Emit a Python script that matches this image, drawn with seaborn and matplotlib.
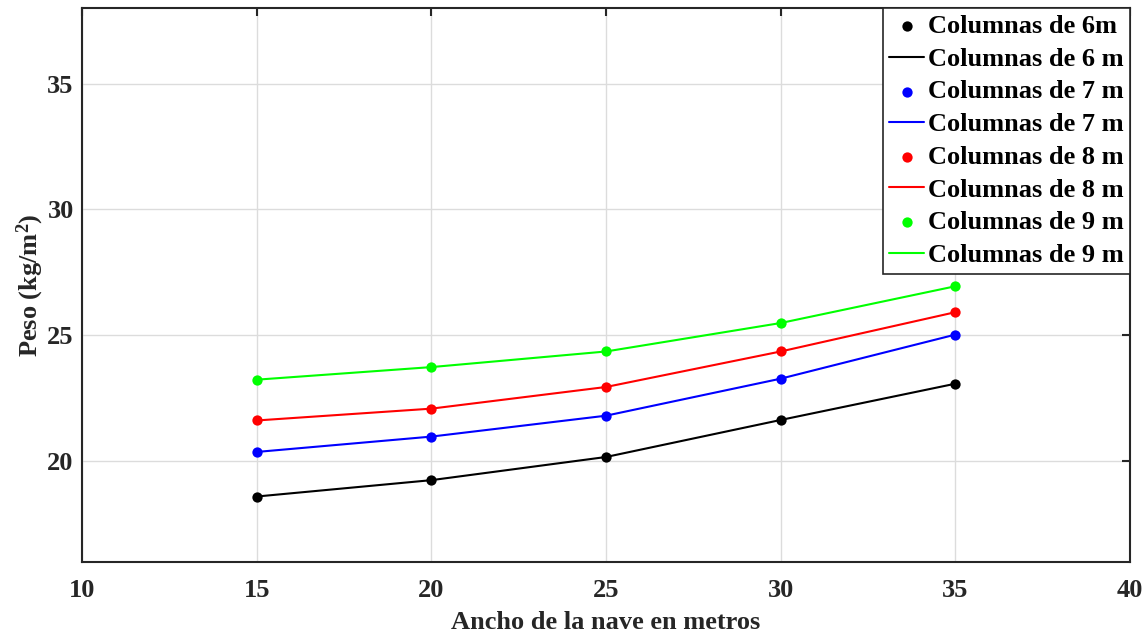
import matplotlib
matplotlib.use("Agg")
import matplotlib.pyplot as plt
import seaborn as sns
import pandas as pd

# data
ancho = [15, 20, 25, 30, 35]
peso_6m = [18.60, 19.25, 20.17, 21.64, 23.08]
peso_7m = [20.37, 20.98, 21.81, 23.28, 25.03]
peso_8m = [21.62, 22.09, 22.95, 24.36, 25.92]
peso_9m = [23.24, 23.74, 24.36, 25.49, 26.95]

series = [
    ("Columnas de 6m", "Columnas de 6 m", peso_6m, "#000000"),
    ("Columnas de 7 m", "Columnas de 7 m", peso_7m, "#0000FF"),
    ("Columnas de 8 m", "Columnas de 8 m", peso_8m, "#FF0000"),
    ("Columnas de 9 m", "Columnas de 9 m", peso_9m, "#00FF00"),
]

sns.set_style("white")
plt.rcParams["font.family"] = ["Liberation Serif", "DejaVu Serif"]
plt.rcParams["font.weight"] = "bold"
plt.rcParams["mathtext.fontset"] = "custom"
plt.rcParams["mathtext.rm"] = "Liberation Serif:bold"
plt.rcParams["mathtext.it"] = "Liberation Serif:bold"
plt.rcParams["mathtext.bf"] = "Liberation Serif:bold"

FS = 19

fig = plt.figure(figsize=(11.48, 6.35), dpi=100)
ax = fig.add_axes([82 / 1148, 1 - 562 / 635, (1130 - 82) / 1148, (562 - 8) / 635])

handles = []
for lab_pts, lab_line, vals, col in series:
    df = pd.DataFrame({"ancho": ancho, "peso": vals})
    sns.lineplot(data=df, x="ancho", y="peso", color=col, linewidth=1.5, ax=ax)
    sns.scatterplot(data=df, x="ancho", y="peso", color=col, s=55, linewidth=0, ax=ax, zorder=3)
    h_line = ax.lines[-1]
    h_pts = ax.collections[-1]
    handles += [(h_pts, lab_pts), (h_line, lab_line)]

ax.set_xlim(10, 40)
ax.set_ylim(16, 38)
ax.set_xticks([10, 15, 20, 25, 30, 35, 40])
ax.set_yticks([20, 25, 30, 35])
ax.grid(True, color="#dcdcdc", linewidth=1.0)
ax.set_axisbelow(True)

for sp in ax.spines.values():
    sp.set_visible(True)
    sp.set_color("#262626")
    sp.set_linewidth(1.5)

ax.tick_params(axis="both", which="both", direction="in", length=6, width=1.5,
               color="#262626", labelcolor="#262626", top=True, right=True, labelsize=FS)
ax.tick_params(axis="x", pad=12)
ax.tick_params(axis="y", pad=6)
for t in ax.get_xticklabels() + ax.get_yticklabels():
    t.set_fontweight("bold")

ax.set_xlabel("Ancho de la nave en metros", fontsize=FS, fontweight="bold", labelpad=7, color="#262626")
ax.set_ylabel("Peso (kg/m$^{2}$)", fontsize=FS, fontweight="bold", labelpad=1, color="#262626")

leg = ax.legend([h for h, _ in handles], [l for _, l in handles],
                loc="upper right", borderaxespad=0, fancybox=False, framealpha=1,
                edgecolor="#262626", prop={"family": "Liberation Serif", "weight": "bold", "size": FS},
                handlelength=1.3, handletextpad=0.15, labelspacing=0.35, borderpad=0.25,
                scatterpoints=1)
leg.get_frame().set_linewidth(1.2)
for t in leg.get_texts():
    t.set_color("black")

fig.savefig("out.png", dpi=100)
